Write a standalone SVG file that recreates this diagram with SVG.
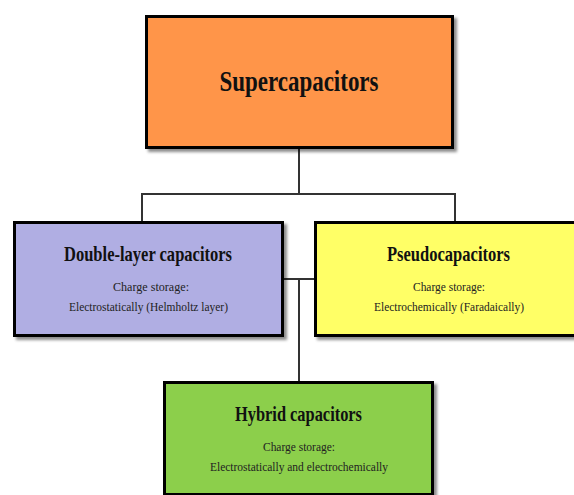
<svg xmlns="http://www.w3.org/2000/svg" width="574" height="495" viewBox="0 0 574 495">
<style>
.box{stroke:#000;stroke-width:3;filter:url(#sh)}
.t{font-family:"Liberation Serif","Times New Roman",serif;font-weight:bold;fill:#111;text-anchor:middle}
.s{font-family:"Liberation Serif","Times New Roman",serif;font-size:13px;fill:#222;text-anchor:middle}
.c{fill:none;stroke:#333;stroke-width:2}
</style>
<defs>
<filter id="sh" x="-10%" y="-10%" width="130%" height="130%">
<feDropShadow dx="3" dy="3" stdDeviation="1.8" flood-color="#000" flood-opacity="0.45"/>
</filter>
</defs>
<rect width="574" height="495" fill="#fff"/>
<g id="connectors">
<polyline class="c" points="299,148 299,194"/>
<polyline class="c" points="142,222 142,194 455,194 455,222"/>
<polyline class="c" points="283,279 315,279"/>
<polyline class="c" points="299,279 299,382"/>
</g>
<g id="supercapacitors">
<rect class="box" x="146.5" y="16.5" width="306" height="131" fill="#FF9548"/>
<text class="t" x="299" y="91" font-size="30" textLength="159" lengthAdjust="spacingAndGlyphs">Supercapacitors</text>
</g>
<g id="double-layer">
<rect class="box" x="14.5" y="222.5" width="268" height="113" fill="#B0AEE3"/>
<text class="t" x="148" y="261" font-size="21" textLength="168" lengthAdjust="spacingAndGlyphs">Double-layer capacitors</text>
<text class="s" x="151" y="291" textLength="76" lengthAdjust="spacingAndGlyphs">Charge storage:</text>
<text class="s" x="148.5" y="311" textLength="159" lengthAdjust="spacingAndGlyphs">Electrostatically (Helmholtz layer)</text>
</g>
<g id="pseudocapacitors">
<rect class="box" x="315.5" y="222.5" width="270" height="113" fill="#FFFF66"/>
<text class="t" x="448.5" y="261" font-size="21" textLength="123" lengthAdjust="spacingAndGlyphs">Pseudocapacitors</text>
<text class="s" x="449" y="291" textLength="72" lengthAdjust="spacingAndGlyphs">Charge storage:</text>
<text class="s" x="449" y="311" textLength="150" lengthAdjust="spacingAndGlyphs">Electrochemically (Faradaically)</text>
</g>
<g id="hybrid">
<rect class="box" x="164.5" y="382.5" width="268" height="112" fill="#8CCF4C"/>
<text class="t" x="298.5" y="421" font-size="21" textLength="127" lengthAdjust="spacingAndGlyphs">Hybrid capacitors</text>
<text class="s" x="299" y="451" textLength="72" lengthAdjust="spacingAndGlyphs">Charge storage:</text>
<text class="s" x="299" y="471" textLength="178" lengthAdjust="spacingAndGlyphs">Electrostatically and electrochemically</text>
</g>
</svg>
